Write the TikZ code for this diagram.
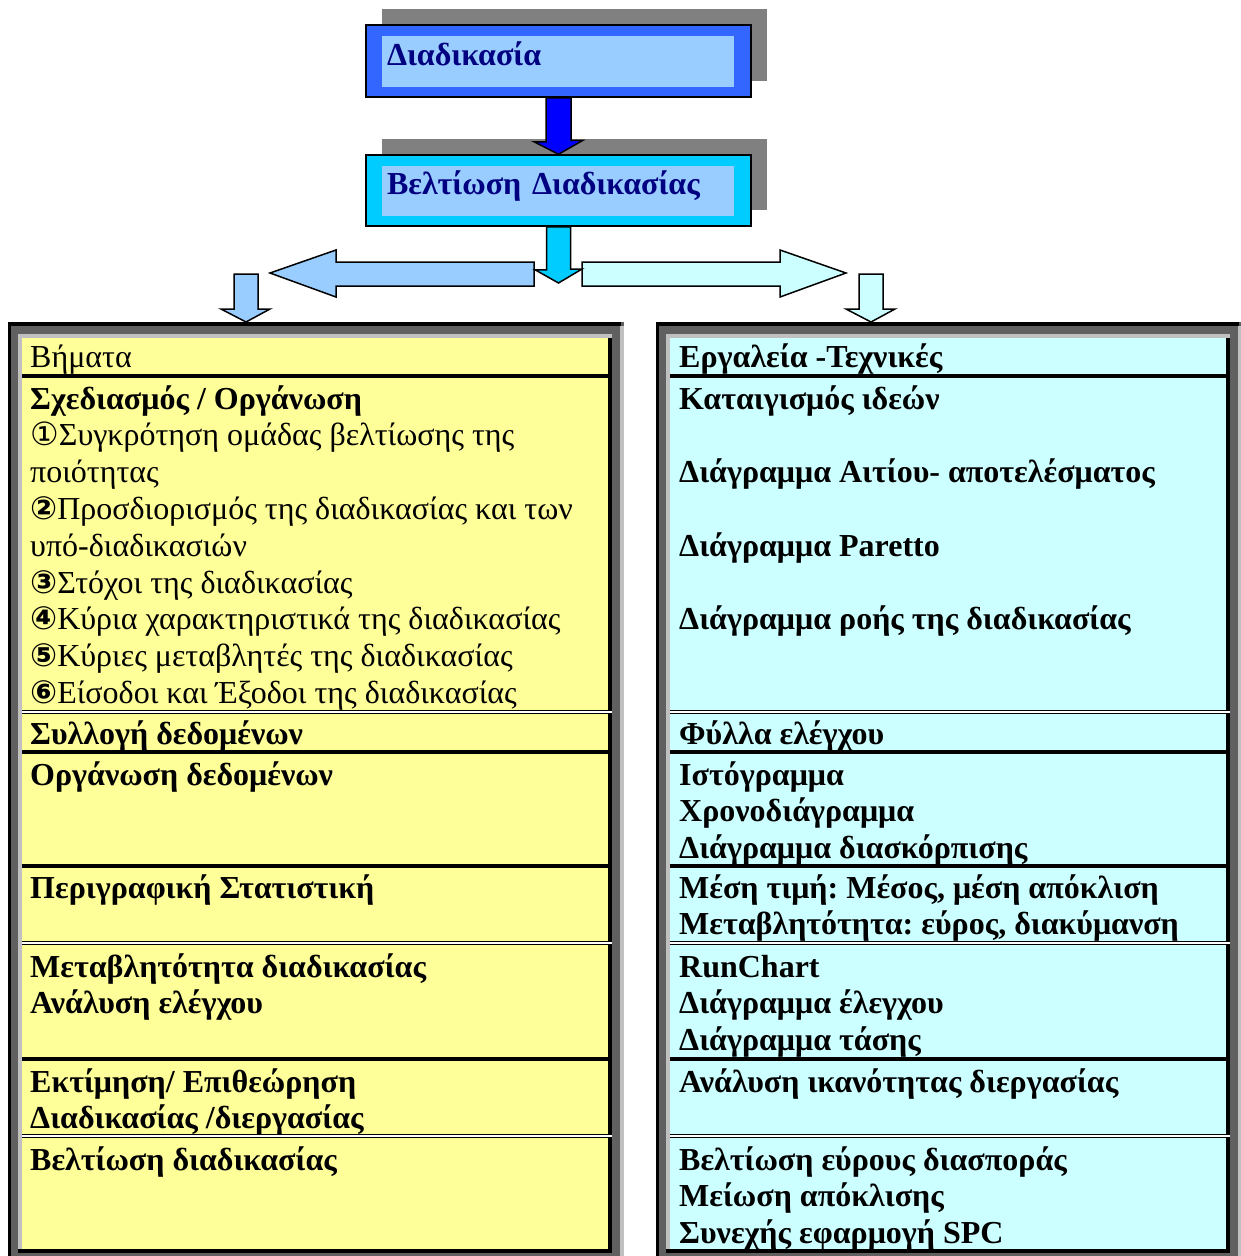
\documentclass[tikz,border=0pt]{standalone}
\usepackage{fontspec}
\setmainfont{Liberation Serif}
\newfontfamily\circfont{DejaVu Sans}
\usetikzlibrary{calc,shadows}
\frenchspacing

\definecolor{shadowgray}{HTML}{808080}
\definecolor{procblue}{HTML}{3366FF}
\definecolor{imprcyan}{HTML}{00CCFF}
\definecolor{innerblue}{HTML}{99CCFF}
\definecolor{titlenavy}{HTML}{000080}
\definecolor{arrowblue}{HTML}{0000FF}
\definecolor{paleblue}{HTML}{99CCFF}
\definecolor{palecyan}{HTML}{CCFFFF}
\definecolor{stepyellow}{HTML}{FFFF99}
\definecolor{framedark}{HTML}{606060}
\definecolor{framelight}{HTML}{C0C0C0}

\newcommand{\cellfont}{\fontsize{32pt}{36.8pt}\selectfont}
\newcommand{\nr}[1]{{\circfont\fontsize{32pt}{36.8pt}\selectfont #1}}
\newcommand{\nrb}[1]{{\circfont\bfseries\fontsize{32pt}{36.8pt}\selectfont #1}}

\tikzset{
  titlebox/.style={draw=black, line width=1.5pt, minimum height=72pt,
    inner xsep=21pt, inner ysep=0pt, text width=343pt, align=left,
    text height=24pt, text depth=16pt, font=\cellfont\bfseries, text=titlenavy,
    drop shadow={shadow xshift=16pt, shadow yshift=16pt, fill=shadowgray, opacity=1},
    path picture={\fill[innerblue] ([xshift=16pt,yshift=10pt]path picture bounding box.south west)
      rectangle ([xshift=-17pt,yshift=-11pt]path picture bounding box.north east);}},
  blockarrow/.style={draw=black, line width=1.5pt, line join=miter},
  % anchored at the baseline of the last line
  celltext/.style={anchor=base west, inner sep=0pt, align=left, font=\cellfont\bfseries},
  septhick/.style={line width=4pt},
  sepdouble/.style={double=white, line width=1.3pt, double distance=1.6pt}
}

\begin{document}
\begin{tikzpicture}[x=1pt, y=-1pt]
  \useasboundingbox (0,0) rectangle (1240,1256);

  % process boxes
  \node[titlebox, fill=procblue] (proc) at (558.5,61) {Διαδικασία};
  \node[titlebox, fill=imprcyan, minimum height=71pt] (impr) at (558.5,190.5) {Βελτίωση Διαδικασίας};

  % block arrows
  \draw[blockarrow, fill=arrowblue] ([xshift=-12.5pt]proc.south) -- ++(0,44) -- ++(-12,0)
    -- (impr.north) -- ++(24.5,-14) -- ++(-12,0) -- ([xshift=12.5pt]proc.south) -- cycle;
  \coordinate (split) at (558.5,283);
  \coordinate (lefttip) at (270,273);
  \coordinate (righttip) at (846,273);
  \coordinate (ltop) at (246,322);
  \coordinate (rtop) at (871,322);
  \draw[blockarrow, fill=paleblue] (534,262) -- (336,262) -- (336,250) -- (lefttip)
    -- (336,297) -- (336,286) -- (534,286) -- cycle;
  \draw[blockarrow, fill=palecyan] (582,262) -- (780,262) -- (780,250) -- (righttip)
    -- (780,297) -- (780,286) -- (582,286) -- cycle;
  \draw[blockarrow, fill=imprcyan] ([xshift=-12pt]impr.south) -- ++(0,43) -- ++(-11.5,0)
    -- (split) -- ++(23.5,-14) -- ++(-11.5,0) -- ([xshift=12pt]impr.south) -- cycle;
  \draw[blockarrow, fill=paleblue] (234,274) -- (234,309) -- (221,309) -- (ltop)
    -- (270,309) -- (258,309) -- (258,274) -- cycle;
  \draw[blockarrow, fill=palecyan] (859,274) -- (859,309) -- (846,309) -- (rtop)
    -- (895,309) -- (883,309) -- (883,274) -- cycle;

  % table frames
  \foreach \xo/\xe/\col in {8/624/stepyellow, 656/1242/palecyan} {
    \fill[framedark] (\xo,322) rectangle (\xe,1256);
    \fill[black] (\xo,322) rectangle (\xe-3,326);
    \fill[black] (\xo,322) rectangle (\xo+3,1256);
    \fill[framelight] (\xe-4,326) rectangle (\xe,1256);
    \fill[framelight] (\xo+10,334) rectangle (\xe-12,338);
    \fill[framelight] (\xo+10,334) rectangle (\xo+14,1253);
    \fill[\col] (\xo+14,338) rectangle (\xe-16,1249);
    \fill[black] (\xe-16,338) rectangle (\xe-12,1253);
    \fill[black] (\xo+10,1249) rectangle (\xe-12,1253);
    \foreach \y in {376,752,866,1059}
      \draw[septhick] (\xo+14,\y) -- (\xe-12,\y);
    \foreach \y in {712,943,1136}
      \draw[sepdouble] (\xo+14,\y) -- (\xe-12,\y);
  }

  % steps
  \node[celltext, font=\cellfont] (steps) at (30,367) {Βήματα};
  \node[celltext, font=\cellfont] (plan) at (30,703.4) {\textbf{Σχεδιασμός / Οργάνωση}\\
    \nr{①}Συγκρότηση ομάδας βελτίωσης της\\ ποιότητας\\
    \nrb{②}Προσδιορισμός της διαδικασίας και των\\ υπό-διαδικασιών\\
    \nrb{③}Στόχοι της διαδικασίας\\ \nrb{④}Κύρια χαρακτηριστικά της διαδικασίας\\
    \nrb{⑤}Κύριες μεταβλητές της διαδικασίας\\ \nrb{⑥}Είσοδοι και Έξοδοι της διαδικασίας};
  \node[celltext] (collect) at (30,744) {Συλλογή δεδομένων};
  \node[celltext] (organize) at (30,785) {Οργάνωση δεδομένων};
  \node[celltext] (descr) at (30,898) {Περιγραφική Στατιστική};
  \node[celltext] (vary) at (30,1013.8) {Μεταβλητότητα διαδικασίας\\ Ανάλυση ελέγχου};
  \node[celltext] (assess) at (30,1128.8) {Εκτίμηση/ Επιθεώρηση\\ Διαδικασίας /διεργασίας};
  \node[celltext] (improve) at (30,1170) {Βελτίωση διαδικασίας};

  % tools
  \node[celltext] (tools) at (679,367) {Εργαλεία -Τεχνικές};
  \node[celltext] (brain) at (679,629.8) {Καταιγισμός ιδεών\\[36.8pt]
    Διάγραμμα Αιτίου- αποτελέσματος\\[36.8pt] Διάγραμμα Paretto\\[36.8pt]
    Διάγραμμα ροής της διαδικασίας};
  \node[celltext] (sheet) at (679,744) {Φύλλα ελέγχου};
  \node[celltext] (hist) at (679,858.6) {Ιστόγραμμα\\ Χρονοδιάγραμμα\\ Διάγραμμα διασκόρπισης};
  \node[celltext] (mean) at (679,934.8) {Μέση τιμή: Μέσος, μέση απόκλιση\\
    Μεταβλητότητα: εύρος, διακύμανση};
  \node[celltext] (run) at (679,1050.6) {RunChart\\ Διάγραμμα έλεγχου\\ Διάγραμμα τάσης};
  \node[celltext] (capab) at (679,1092) {Ανάλυση ικανότητας διεργασίας};
  \node[celltext] (spread) at (679,1243.6) {Βελτίωση εύρους διασποράς\\ Μείωση απόκλισης\\
    Συνεχής εφαρμογή SPC};
\end{tikzpicture}
\end{document}
